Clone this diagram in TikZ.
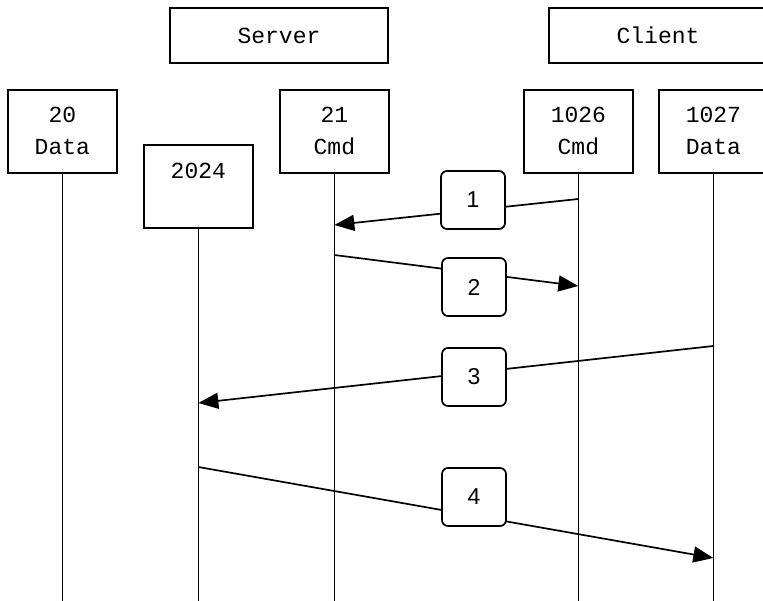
\documentclass[tikz,border=0pt]{standalone}
\usepackage{fontspec}
\setmainfont{Liberation Mono}
\newfontfamily\lblfont{Liberation Sans}
\usetikzlibrary{arrows.meta}
\begin{document}
\begin{tikzpicture}[x=1pt,y=-1pt,line width=1.7pt,
  hostbox/.style={draw,minimum width=218pt,minimum height=55pt,inner sep=0pt,font=\fontsize{23}{32}\selectfont},
  portbox/.style={draw,minimum width=109pt,minimum height=83pt,inner sep=0pt,anchor=north west,align=center,font=\fontsize{23}{32}\selectfont},
  stepbox/.style={draw,fill=white,rounded corners=6pt,minimum width=64pt,minimum height=58pt,inner sep=0pt,font=\lblfont\fontsize{23}{26}\selectfont},
  life/.style={line width=1.7pt},
  msg/.style={line width=1.7pt,-{Triangle[length=20pt,width=16pt]}}]
\useasboundingbox (0,0) rectangle (763,601);
\fill[white] (0,0) rectangle (763,601);
% host boxes
\node[hostbox] (server) at (279,35.5) {Server};
\node[hostbox] (client) at (658,35.5) {Client};
% port boxes
\node[portbox] (p20) at (7,89) {20\\Data};
\node[portbox] (p2024) at (143,144) {2024\\\mbox{}};
\node[portbox] (p21) at (279,89) {21\\Cmd};
\node[portbox] (p1026) at (523,89) {1026\\Cmd};
\node[portbox] (p1027) at (658,89) {1027\\Data};
% lifeline ends
\coordinate (e20) at (p20.south |- 0,601);
\coordinate (e2024) at (p2024.south |- 0,601);
\coordinate (e21) at (p21.south |- 0,601);
\coordinate (e1026) at (p1026.south |- 0,601);
\coordinate (e1027) at (p1027.south |- 0,601);
\draw[life] (p20.south) -- (e20);
\draw[life] (p2024.south) -- (e2024);
\draw[life] (p21.south) -- (e21);
\draw[life] (p1026.south) -- (e1026);
\draw[life] (p1027.south) -- (e1027);
% message end points
\coordinate (m1s) at (p1026.south |- 0,199);
\coordinate (m1e) at (p21.south |- 0,225);
\coordinate (m2s) at (p21.south |- 0,255);
\coordinate (m2e) at (p1026.south |- 0,286);
\coordinate (m3s) at (p1027.south |- 0,346);
\coordinate (m3e) at (p2024.south |- 0,403);
\coordinate (m4s) at (p2024.south |- 0,467);
\coordinate (m4e) at (p1027.south |- 0,558);
\draw[msg] (m1s) -- (m1e);
\draw[msg] (m2s) -- (m2e);
\draw[msg] (m3s) -- (m3e);
\draw[msg] (m4s) -- (m4e);
% step labels
\node[stepbox] (s1) at (473,200) {1};
\node[stepbox] (s2) at (474,287) {2};
\node[stepbox] (s3) at (474,377) {3};
\node[stepbox] (s4) at (474,497) {4};
\end{tikzpicture}
\end{document}
